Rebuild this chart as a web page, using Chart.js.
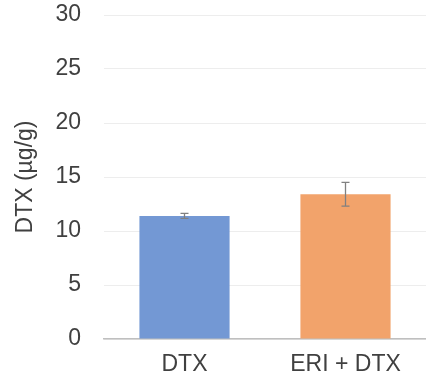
<!DOCTYPE html>
<html>
<head>
<meta charset="utf-8">
<script src="https://cdn.jsdelivr.net/npm/chart.js@4.4.0/dist/chart.umd.min.js"></script>
<style>
  html, body { margin: 0; padding: 0; background: #ffffff; }
  #wrap { width: 426px; height: 381px; position: relative; }
</style>
</head>
<body>
<div id="wrap"><canvas id="c" width="426" height="381"></canvas></div>
<script>
// Groups and measured DTX concentration (mean ± SD)
const groups = ['DTX', 'ERI + DTX'];
const meanValues = [11.4, 13.4];
const errorValues = [0.23, 1.1];
const barColors = ['#7398D4', '#F2A36B'];
const yTicks = [0, 5, 10, 15, 20, 25, 30];

// Draws symmetric error bars on top of each bar using the chart's scales
const errorBarPlugin = {
  id: 'errorBars',
  afterDatasetsDraw(chart) {
    const ctx = chart.ctx;
    const meta = chart.getDatasetMeta(0);
    const y = chart.scales.y;
    ctx.save();
    ctx.strokeStyle = '#808080';
    ctx.lineWidth = 1.3;
    meta.data.forEach((bar, i) => {
      const x = bar.x;
      const top = y.getPixelForValue(meanValues[i] + errorValues[i]);
      const bot = y.getPixelForValue(meanValues[i] - errorValues[i]);
      const cap = 4;
      ctx.beginPath();
      ctx.moveTo(x, top); ctx.lineTo(x, bot);
      ctx.moveTo(x - cap, top); ctx.lineTo(x + cap, top);
      ctx.moveTo(x - cap, bot); ctx.lineTo(x + cap, bot);
      ctx.stroke();
    });
    ctx.restore();
  }
};

const labelFont = { family: 'Liberation Sans', size: 23 };

new Chart(document.getElementById('c'), {
  type: 'bar',
  data: {
    labels: groups,
    datasets: [{
      data: meanValues,
      backgroundColor: barColors,
      borderWidth: 0,
      categoryPercentage: 1.0,
      barPercentage: 0.56
    }]
  },
  options: {
    responsive: false,
    animation: false,
    devicePixelRatio: 1,
    layout: { padding: { top: 0, right: 0, bottom: 0, left: 12 } },
    plugins: { legend: { display: false }, tooltip: { enabled: false } },
    scales: {
      x: {
        afterFit(axis) { axis.height = 42; axis.paddingLeft = 0; axis.paddingRight = 0; },
        grid: { display: false, drawTicks: false },
        border: { color: '#bfbfbf', width: 1.5 },
        ticks: {
          color: '#404040',
          padding: 12,
          font: labelFont
        }
      },
      y: {
        min: 0,
        max: 30,
        afterBuildTicks(axis) { axis.ticks = yTicks.map(v => ({ value: v })); },
        afterFit(axis) { axis.width = 92; axis.paddingTop = 15; axis.paddingBottom = 0; },
        grid: { color: '#ededed', drawTicks: false, lineWidth: 1 },
        border: { display: false },
        ticks: {
          color: '#404040',
          padding: 23,
          font: labelFont
        },
        title: {
          display: true,
          text: 'DTX (µg/g)',
          color: '#404040',
          padding: { top: 0, bottom: 16 },
          font: labelFont
        }
      }
    }
  },
  plugins: [errorBarPlugin]
});
</script>
</body>
</html>
